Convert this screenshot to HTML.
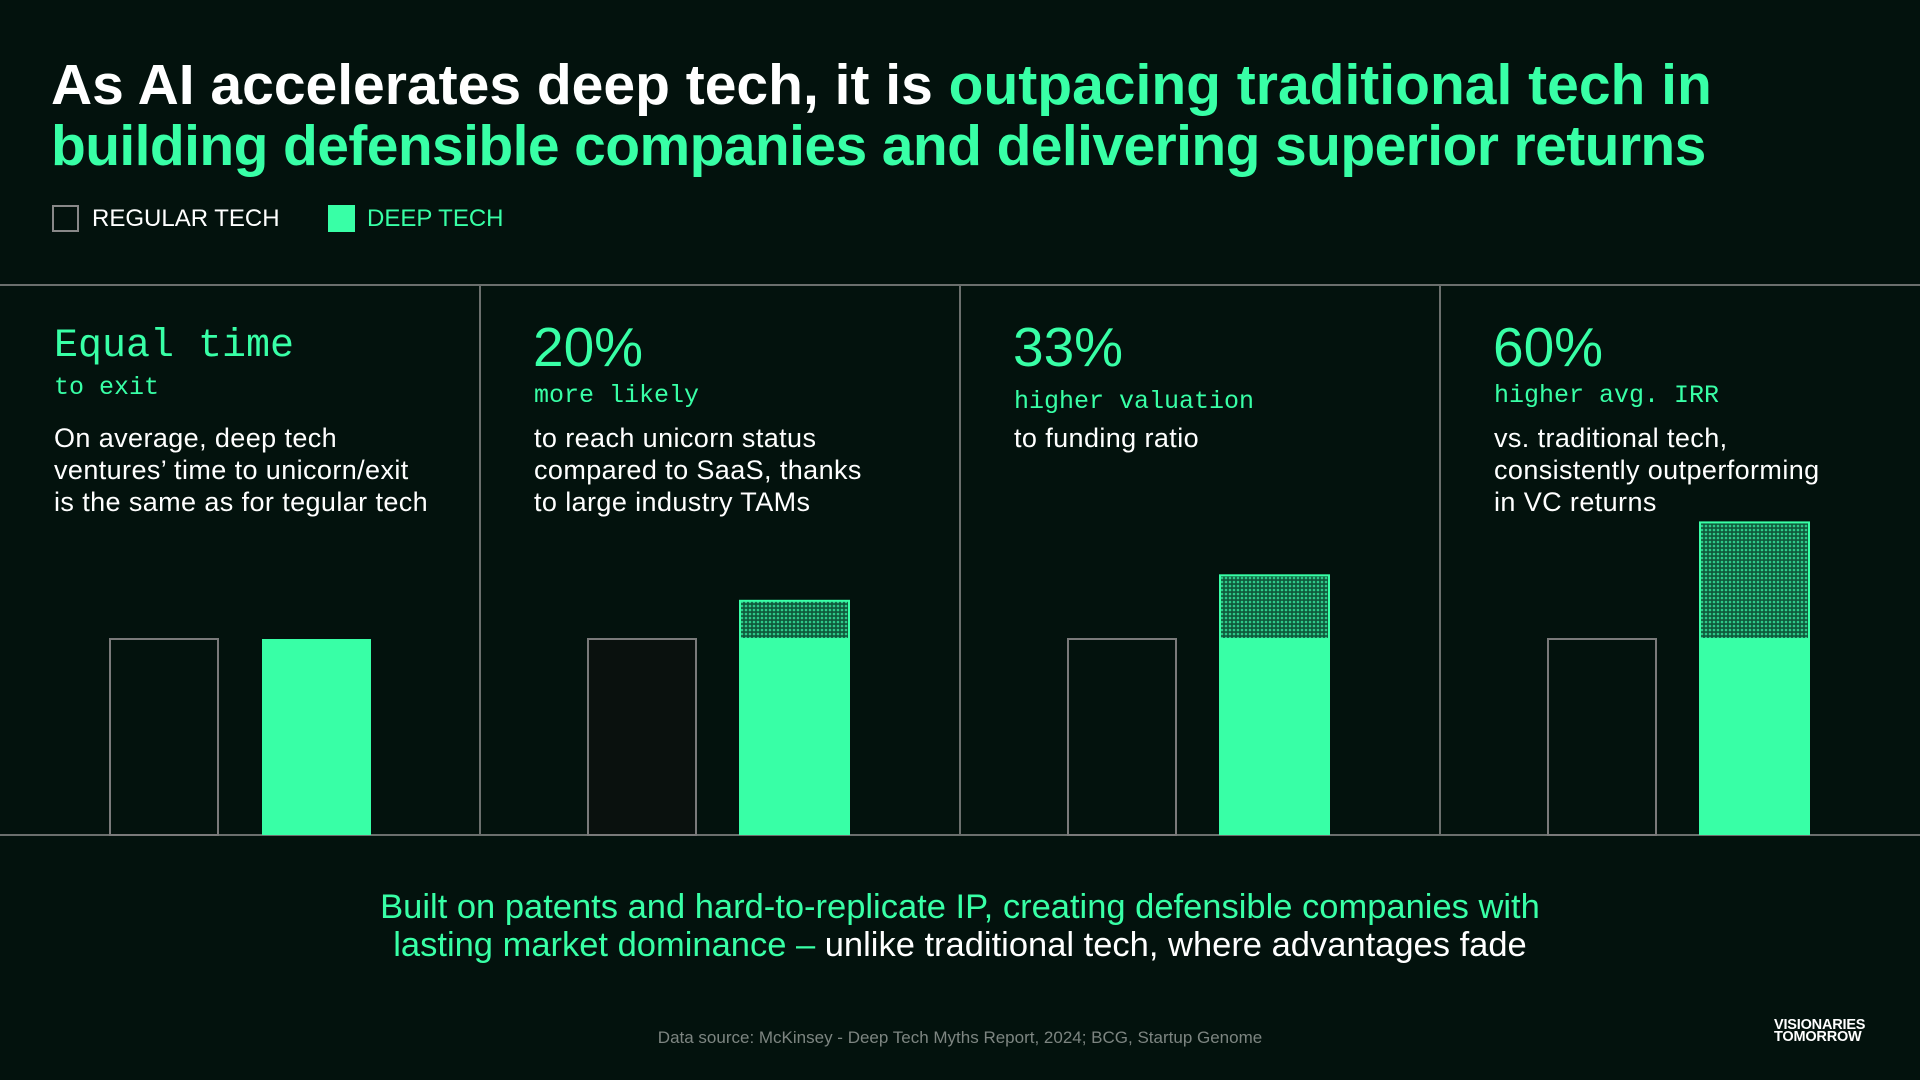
<!DOCTYPE html>
<html><head><meta charset="utf-8">
<style>
*{margin:0;padding:0;box-sizing:border-box}
body{width:1920px;height:1080px;background:#03120d;overflow:hidden;position:relative;font-family:"Liberation Sans",sans-serif;color:#fff}
.abs{position:absolute;white-space:nowrap}
.g{color:#38ffa6}
.title{left:51px;top:55px;font-size:57px;font-weight:bold;line-height:61px;letter-spacing:-0.3px}
.leg{top:204px;font-size:24px;line-height:30px}
.big{font-family:"Liberation Mono",monospace;color:#38ffa6}
.h1{font-size:40px;line-height:44px}
.h2{font-size:55px;line-height:58px;font-family:"Liberation Sans",sans-serif}
.sub{font-size:25px;line-height:30px}
.body{font-size:27px;line-height:32px;letter-spacing:0.4px}
</style></head><body>
<div class="abs title"><span style="letter-spacing:0px">As AI accelerates deep tech, it is <span class="g">outpacing traditional tech in</span></span><br><span class="g" style="letter-spacing:-0.6px">building defensible companies and delivering superior returns</span></div>
<div class="abs" style="left:52px;top:205px;width:27px;height:27px;border:2px solid #888"></div>
<div class="abs leg" style="left:92px">REGULAR TECH</div>
<div class="abs" style="left:328px;top:205px;width:27px;height:27px;background:#38ffa6"></div>
<div class="abs leg g" style="left:367px">DEEP TECH</div>

<svg id="chart" class="abs" style="left:0;top:0" width="1920" height="1080">
<defs>
<pattern id="dots" width="4" height="4" patternUnits="userSpaceOnUse"><rect width="4" height="4" fill="#0f5a3c"/><circle cx="2" cy="2" r="1.3" fill="#2ec989"/></pattern>
</defs>
</svg>

<div class="abs big h1" style="left:54px;top:325px">Equal time</div>
<div class="abs big sub" style="left:54px;top:373px">to exit</div>
<div class="abs body" style="left:54px;top:422px">On average, deep tech<br>ventures’ time to unicorn/exit<br>is the same as for tegular tech</div>

<div class="abs big h2" style="left:533px;top:318px">20%</div>
<div class="abs big sub" style="left:534px;top:381px">more likely</div>
<div class="abs body" style="left:534px;top:422px">to reach unicorn status<br>compared to SaaS, thanks<br>to large industry TAMs</div>

<div class="abs big h2" style="left:1013px;top:318px">33%</div>
<div class="abs big sub" style="left:1014px;top:387px">higher valuation</div>
<div class="abs body" style="left:1014px;top:422px">to funding ratio</div>

<div class="abs big h2" style="left:1493px;top:318px">60%</div>
<div class="abs big sub" style="left:1494px;top:381px">higher avg. IRR</div>
<div class="abs body" style="left:1494px;top:422px">vs. traditional tech,<br>consistently outperforming<br>in VC returns</div>

<div class="abs" style="left:0;width:1920px;top:888px;text-align:center;font-size:34.5px;line-height:38px"><span class="g">Built on patents and hard-to-replicate IP, creating defensible companies with</span><br><span class="g">lasting market dominance – </span>unlike traditional tech, where advantages fade</div>
<div class="abs" style="left:0;width:1920px;top:1028px;text-align:center;font-size:17px;color:#7d8581">Data source: McKinsey - Deep Tech Myths Report, 2024; BCG, Startup Genome</div>
<div class="abs" style="left:1774px;top:1019px;font-size:14.5px;line-height:12px;font-weight:bold;letter-spacing:-0.2px">VISIONARIES<br>TOMORROW</div>

<script>
const categories = ["Time to exit", "Unicorn likelihood", "Valuation to funding", "Avg. IRR"];
const regularValues = [100, 100, 100, 100];
const deepValues = [100, 120, 133, 160];

const svg = document.getElementById('chart');
const NS = 'http://www.w3.org/2000/svg';
const baseY = 835, topLine = 285, panelW = 480;
const yScale = v => baseY - v * 1.96;
const xPanel = i => i * panelW;
function mk(tag, attrs){const e=document.createElementNS(NS,tag);for(const k in attrs)e.setAttribute(k,attrs[k]);svg.appendChild(e);return e;}

const hTop = mk('line',{x1:0,x2:1920,y1:topLine,y2:topLine,stroke:'#6b6f6d','stroke-width':2});


const hBase = mk('line',{x1:0,x2:1920,y1:baseY,y2:baseY,stroke:'#6b6f6d','stroke-width':2});



categories.forEach((c,i)=>{
  const x0 = xPanel(i);
  if(i>0){
    const d = mk('line',{x1:x0,x2:x0,y1:topLine,y2:baseY,stroke:'#6b6f6d','stroke-width':2});
    
    
  }
  const ry = yScale(regularValues[i]);
  const rx = x0 + (i===0?110:108);
  const r = mk('rect',{x:rx,y:ry,width:108,height:baseY-ry,fill:i===1?'#0a110e':'none',stroke:'#7a7a7a','stroke-width':2});
  
  
  const dy = yScale(deepValues[i]);
  const solidTop = yScale(Math.min(deepValues[i], regularValues[i]));
  const w = i===0?109:111;
  const dx = x0 + (i===0?262:259);
  const s = mk('rect',{x:dx,y:solidTop,width:w,height:baseY-solidTop,fill:'#38ffa6'});
  
  
  if(deepValues[i]>regularValues[i]){
    const t = mk('rect',{x:dx+1,y:dy+1,width:w-2,height:solidTop-dy-1,fill:'url(#dots)',stroke:'#38ffa6','stroke-width':2});
    
    
  }
});
</script>
</body></html>
